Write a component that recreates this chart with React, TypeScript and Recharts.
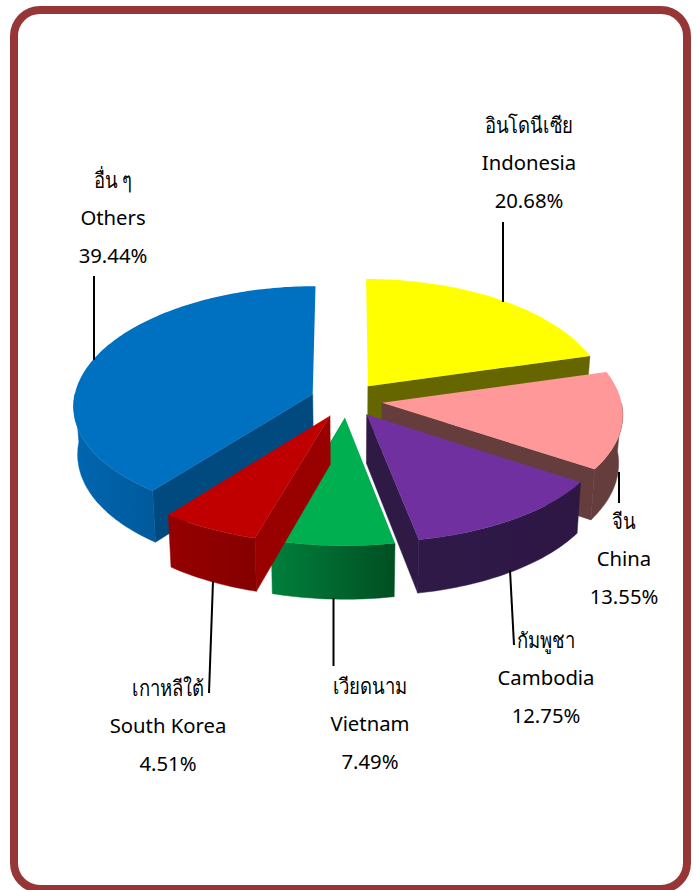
import React from "react";
import { PieChart, Pie } from "recharts";

const thaiNames = ["อื่น ๆ", "อินโดนีเซีย", "จีน", "กัมพูชา", "เวียดนาม", "เกาหลีใต้"];
const englishNames = ["Others", "Indonesia", "China", "Cambodia", "Vietnam", "South Korea"];
const shares = [39.44, 20.68, 13.55, 12.75, 7.49, 4.51];
// wedge sizes as drawn: the South Korea wedge is larger than its printed share
const wedgeSizes = [39.44, 20.68, 13.55, 12.75, 7.49, 6.09];

const topColors = ["#0070c0", "#ffff00", "#ff9999", "#7030a0", "#00b050", "#c00000"];
const cutColors = ["#004a80", "#666600", "#663d3d", "#2e1a45", "#006030", "#990000"];
const wallFrom = ["#0066b0", "#666600", "#663d3d", "#2e1a48", "#00803c", "#960000"];
const wallTo = ["#005a9c", "#666600", "#663d3d", "#2e1645", "#004f22", "#850000"];

// label centres (x, y of the first text row) and leader lines
const labelSpots = [
  [113, 179],
  [529, 124],
  [624, 520],
  [546, 639],
  [370, 685],
  [168, 687],
];
const leaders = [
  [94, 360, 94, 276],
  [503, 302, 503, 222],
  [619, 472, 619, 503],
  [510, 570, 514, 645],
  [333.5, 598, 333.5, 666],
  [213, 581, 209, 693],
];

const data = englishNames.map((name, i) => ({ name, value: wedgeSizes[i] }));

const SQUASH = 117 / 240;
const PERSP_X = 0.09;
const PERSP_Y = 0.07;
const EXPLODE = 0.15;
const DEPTH = 48;
const RAD = Math.PI / 180;

const project = (cx: number, cy: number, r: number, u: number, v: number) => ({
  x: cx + (r * u) / (1 - PERSP_X * v),
  y: cy + (r * SQUASH * v) / (1 - PERSP_Y * v),
  v,
});

const SliceShape = (props: any) => {
  const { cx, cy, outerRadius, startAngle, endAngle, index } = props;
  const mid = ((startAngle + endAngle) / 2) * RAD;
  const ou = Math.cos(mid) * EXPLODE;
  const ov = -Math.sin(mid) * EXPLODE;
  const apex = project(cx, cy, outerRadius, ou, ov);

  const rim: any[] = [];
  const front: any[] = [];
  const steps = Math.ceil(Math.abs(endAngle - startAngle));
  for (let i = 0; i <= steps; i++) {
    const a = (startAngle + ((endAngle - startAngle) * i) / steps) * RAD;
    const p = project(cx, cy, outerRadius, ou + Math.cos(a), ov - Math.sin(a));
    rim.push(p);
    if (-Math.sin(a) >= 0) front.push(p);
  }
  const drop = (p: any) => ({
    x: cx + (p.x - cx) * 0.985,
    y: p.y + DEPTH / (1 - PERSP_X * p.v),
  });
  const toPath = (pts: any[]) =>
    "M" + pts.map((p) => `${p.x.toFixed(1)},${p.y.toFixed(1)}`).join("L") + "Z";
  const cutWall = (p: any) => toPath([apex, p, drop(p), drop(apex)]);
  const first = rim[0];
  const last = rim[rim.length - 1];
  const gradId = `wall-${index}`;

  return (
    <g>
      <defs>
        <linearGradient id={gradId} x1="0" y1="0" x2="1" y2="0">
          <stop offset="0%" stopColor={wallFrom[index]} />
          <stop offset="100%" stopColor={wallTo[index]} />
        </linearGradient>
      </defs>
      {/* only the cut faces turned to the viewer */}
      {first.x < apex.x - 5 && (
        <path d={cutWall(first)} fill={cutColors[index]} stroke={cutColors[index]} strokeWidth={0.5} />
      )}
      {last.x > apex.x + 5 && (
        <path d={cutWall(last)} fill={cutColors[index]} stroke={cutColors[index]} strokeWidth={0.5} />
      )}
      {front.length > 1 && (
        <path
          d={toPath([...front, ...front.map(drop).reverse()])}
          fill={`url(#${gradId})`}
          stroke={`url(#${gradId})`}
          strokeWidth={0.5}
        />
      )}
      <path d={toPath([apex, ...rim])} fill={topColors[index]} />
    </g>
  );
};

const renderLabel = (props: any) => {
  const i = props.index;
  const [x, y] = labelSpots[i];
  const [x1, y1, x2, y2] = leaders[i];
  const fontFamily = "'Noto Sans', sans-serif";
  return (
    <g key={i}>
      <line x1={x1} y1={y1} x2={x2} y2={y2} stroke="#000" strokeWidth={2} />
      <text
        transform={`translate(${x},${y + 9}) scale(1,1.18)`}
        textAnchor="middle"
        fontSize={18.5}
        fontFamily={fontFamily}
        fill="#000"
      >
        {thaiNames[i]}
      </text>
      <text x={x} y={y + 45.5} textAnchor="middle" fontSize={20.3} fontFamily={fontFamily} fill="#000">
        {englishNames[i]}
      </text>
      <text x={x} y={y + 84} textAnchor="middle" fontSize={20.3} fontFamily={fontFamily} fill="#000">
        {`${shares[i].toFixed(2)}%`}
      </text>
    </g>
  );
};

export default function App() {
  return (
    <div style={{ position: "absolute", left: 0, top: 0, width: 696, height: 890, background: "#fff", overflow: "hidden" }}>
      <div
        style={{
          position: "absolute",
          left: 10,
          top: 6,
          width: 680.7,
          height: 887,
          boxSizing: "border-box",
          border: "8px solid #963636",
          borderRadius: 30,
        }}
      />
      <div style={{ position: "absolute", left: 0, top: 0 }}>
        <PieChart width={696} height={890} margin={{ top: 0, right: 0, bottom: 0, left: 0 }}>
          <Pie
            data={data}
            dataKey="value"
            nameKey="name"
            cx={346.5}
            cy={400}
            innerRadius={0}
            outerRadius={239}
            startAngle={232}
            endAngle={-128}
            stroke="none"
            paddingAngle={0}
            shape={SliceShape}
            label={renderLabel}
            labelLine={false}
            isAnimationActive={false}
          />
        </PieChart>
      </div>
    </div>
  );
}
